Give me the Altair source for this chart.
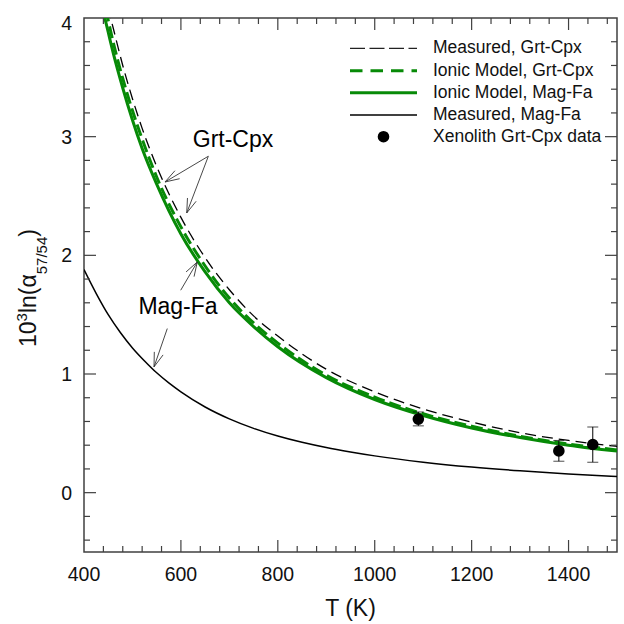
import math
import altair as alt
import pandas as pd

# ---------------- data ----------------
# Ionic Model, Mag-Fa (green solid)
T_ion_mf = [440, 450, 460, 480, 500, 520, 550, 600, 650, 700, 750, 800, 900, 1000, 1100, 1200, 1300, 1400, 1500]
V_ion_mf = [4.05, 3.88, 3.71, 3.41, 3.14, 2.90, 2.60, 2.18, 1.86, 1.60, 1.40, 1.23, 0.97, 0.785, 0.65, 0.545, 0.465, 0.40, 0.35]
# Ionic Model, Grt-Cpx (green dashed)
T_ion_gc = [445, 450, 460, 480, 500, 520, 550, 600, 650, 700, 750, 800, 900, 1000, 1100, 1200, 1300, 1400, 1500]
V_ion_gc = [4.07, 3.98, 3.80, 3.49, 3.22, 2.98, 2.66, 2.24, 1.91, 1.64, 1.43, 1.26, 0.99, 0.805, 0.665, 0.56, 0.475, 0.41, 0.36]
# Measured, Grt-Cpx (black dashed)
T_mea_gc = [450, 455, 460, 480, 500, 520, 550, 600, 650, 700, 750, 800, 900, 1000, 1100, 1200, 1300, 1400, 1500]
V_mea_gc = [4.09, 4.00, 3.92, 3.60, 3.32, 3.07, 2.75, 2.32, 1.98, 1.71, 1.49, 1.32, 1.04, 0.85, 0.705, 0.595, 0.505, 0.44, 0.39]
# Measured, Mag-Fa (black solid)
T_mea_mf = [400, 425, 450, 475, 500, 525, 550, 575, 600, 650, 700, 750, 800, 850, 900, 950, 1000, 1100, 1200, 1300, 1400, 1500]
V_mea_mf = [1.88, 1.68, 1.50, 1.35, 1.22, 1.11, 1.01, 0.925, 0.85, 0.722, 0.622, 0.542, 0.477, 0.424, 0.38, 0.343, 0.31, 0.257, 0.216, 0.184, 0.158, 0.136]
# Xenolith Grt-Cpx data
T_xen = [1090, 1380, 1450]
V_xen = [0.62, 0.352, 0.406]
LO_xen = [0.563, 0.265, 0.257]
HI_xen = [0.68, 0.44, 0.554]

x_major = [600, 800, 1000, 1200, 1400]
x_minor = [440, 480, 520, 560, 640, 680, 720, 760, 840, 880, 920, 960,
           1040, 1080, 1120, 1160, 1240, 1280, 1320, 1360, 1440, 1480]
x_labels = [400, 600, 800, 1000, 1200, 1400]
y_major = [0, 1, 2, 3]
y_minor = [-0.4, -0.2, 0.2, 0.4, 0.6, 0.8, 1.2, 1.4, 1.6, 1.8, 2.2, 2.4, 2.6, 2.8, 3.2, 3.4, 3.6, 3.8]
y_labels = [0, 1, 2, 3]
y_top_label = [4]

legend_labels = ["Measured, Grt-Cpx", "Ionic Model, Grt-Cpx", "Ionic Model, Mag-Fa",
                 "Measured, Mag-Fa", "Xenolith Grt-Cpx data"]

# annotation arrows (start T, start v, end T, end v)
arrows = [
    (656.6, 2.835, 567.2, 2.618),
    (656.6, 2.835, 612.0, 2.357),
    (599.6, 1.706, 633.8, 1.944),
    (571.9, 1.383, 544.5, 1.060),
]

# ---------------- layout ----------------
W, H = 533, 534
X0, X1, Y0, Y1 = 400, 1500, -0.5, 4.0
FONT = "Liberation Sans"
GREEN = "#078a07"
AX = "#404040"

xs = alt.Scale(domain=[X0, X1], nice=False, zero=False)
ys = alt.Scale(domain=[Y0, Y1], nice=False, zero=False)


def to_px(t, v):
    return (t - X0) / (X1 - X0) * W, (Y1 - v) / (Y1 - Y0) * H


def to_data(px, py):
    return X0 + px / W * (X1 - X0), Y1 - py / H * (Y1 - Y0)


segs = []
for (ta, va, tb, vb) in arrows:
    segs.append((ta, va, tb, vb))
    ax_, ay_ = to_px(ta, va)
    bx_, by_ = to_px(tb, vb)
    dx, dy = ax_ - bx_, ay_ - by_
    d = math.hypot(dx, dy)
    dx, dy = dx / d, dy / d
    for s in (1, -1):
        a = math.radians(18) * s
        rx = dx * math.cos(a) - dy * math.sin(a)
        ry = dx * math.sin(a) + dy * math.cos(a)
        hx, hy = to_data(bx_ + 15 * rx, by_ + 15 * ry)
        segs.append((tb, vb, hx, hy))
arrow_df = pd.DataFrame(segs, columns=["t", "v", "t2", "v2"])

X = lambda f: alt.X(f, scale=xs, axis=None)
Y = lambda f: alt.Y(f, scale=ys, axis=None)


def line_layer(T, V, color, width, dash=None):
    df = pd.DataFrame({"T": T, "v": V})
    kw = dict(color=color, strokeWidth=width, clip=True, interpolate="monotone")
    if dash:
        kw["strokeDash"] = dash
    return alt.Chart(df).mark_line(**kw).encode(x=X("T:Q"), y=Y("v:Q"))


layers = []
layers.append(line_layer(T_ion_mf, V_ion_mf, GREEN, 3.0))
layers.append(line_layer(T_ion_gc, V_ion_gc, GREEN, 3.0, dash=[12, 5]))
layers.append(line_layer(T_mea_gc, V_mea_gc, "black", 1.3, dash=[11, 6]))
layers.append(line_layer(T_mea_mf, V_mea_mf, "black", 1.5))

xen = pd.DataFrame({"T": T_xen, "v": V_xen, "lo": LO_xen, "hi": HI_xen})
layers.append(alt.Chart(xen).mark_rule(color="black", strokeWidth=1).encode(
    x=X("T:Q"), y=Y("lo:Q"), y2="hi:Q"))
for col in ("lo", "hi"):
    layers.append(alt.Chart(xen).mark_tick(orient="horizontal", size=11, thickness=1, color="black").encode(
        x=X("T:Q"), y=Y(f"{col}:Q")))
layers.append(alt.Chart(xen).mark_circle(size=135, color="black", opacity=1).encode(
    x=X("T:Q"), y=Y("v:Q")))

# ticks (inward) on all four sides
xmaj = pd.DataFrame({"T": x_major})
xmin = pd.DataFrame({"T": x_minor})
ymaj = pd.DataFrame({"v": y_major})
ymin = pd.DataFrame({"v": y_minor})
for df, L in ((xmaj, 12), (xmin, 6)):
    layers.append(alt.Chart(df).mark_rule(color=AX, strokeWidth=1.2).encode(
        x=X("T:Q"), y=alt.value(H), y2=alt.value(H - L)))
    layers.append(alt.Chart(df).mark_rule(color=AX, strokeWidth=1.2).encode(
        x=X("T:Q"), y=alt.value(0), y2=alt.value(L)))
for df, L in ((ymaj, 12), (ymin, 6)):
    layers.append(alt.Chart(df).mark_rule(color=AX, strokeWidth=1.2).encode(
        y=Y("v:Q"), x=alt.value(0), x2=alt.value(L)))
    layers.append(alt.Chart(df).mark_rule(color=AX, strokeWidth=1.2).encode(
        y=Y("v:Q"), x=alt.value(W), x2=alt.value(W - L)))

# tick labels
xl = pd.DataFrame({"T": x_labels})
layers.append(alt.Chart(xl).mark_text(fontSize=19.5, font=FONT, color="#111", align="center",
                                      baseline="alphabetic").encode(
    x=X("T:Q"), y=alt.value(H + 29), text=alt.Text("T:Q", format="d")))
yl = pd.DataFrame({"v": y_labels})
layers.append(alt.Chart(yl).mark_text(fontSize=19.5, font=FONT, color="#111", align="right",
                                      baseline="alphabetic", dy=7).encode(
    y=Y("v:Q"), x=alt.value(-12), text=alt.Text("v:Q", format="d")))
yl4 = pd.DataFrame({"v": y_top_label})
layers.append(alt.Chart(yl4).mark_text(fontSize=19.5, font=FONT, color="#111", align="right",
                                       baseline="alphabetic", dy=12).encode(
    y=Y("v:Q"), x=alt.value(-12), text=alt.Text("v:Q", format="d")))

# annotation arrows and labels
layers.append(alt.Chart(arrow_df).mark_rule(color="#333", strokeWidth=0.9).encode(
    x=X("t:Q"), y=Y("v:Q"), x2="t2:Q", y2="v2:Q"))
ann = pd.DataFrame({"t": [707.5, 594.0], "v": [2.97, 1.563], "txt": ["Grt-Cpx", "Mag-Fa"]})
layers.append(alt.Chart(ann).mark_text(fontSize=23, font=FONT, color="black", align="center", baseline="middle").encode(
    x=X("t:Q"), y=Y("v:Q"), text="txt:N"))

# legend (drawn manually)
one = pd.DataFrame({"a": [0]})
rows = [30.3, 52.7, 74.7, 97.0, 118.7]
LX0, LX1, LTX = 266, 333, 349
layers.append(alt.Chart(one).mark_rule(color="#222", strokeWidth=1.3, strokeDash=[15, 4.5]).encode(
    x=alt.value(LX0), x2=alt.value(LX1), y=alt.value(rows[0])))
layers.append(alt.Chart(one).mark_rule(color=GREEN, strokeWidth=3, strokeDash=[12.5, 8]).encode(
    x=alt.value(LX0), x2=alt.value(LX1), y=alt.value(rows[1])))
layers.append(alt.Chart(one).mark_rule(color=GREEN, strokeWidth=3).encode(
    x=alt.value(LX0), x2=alt.value(LX1), y=alt.value(rows[2])))
layers.append(alt.Chart(one).mark_rule(color="black", strokeWidth=1.3).encode(
    x=alt.value(LX0), x2=alt.value(LX1), y=alt.value(rows[3])))
layers.append(alt.Chart(one).mark_circle(size=135, color="black", opacity=1).encode(
    x=alt.value((LX0 + LX1) / 2), y=alt.value(rows[4])))
for r, lab in zip(rows, legend_labels):
    layers.append(alt.Chart(one).mark_text(text=lab, fontSize=17.5, font=FONT, color="#111",
                                            align="left", baseline="middle").encode(
        x=alt.value(LTX), y=alt.value(r)))

# axis titles
layers.append(alt.Chart(one).mark_text(text="T (K)", fontSize=23, font=FONT, color="#111",
                                        align="center", baseline="alphabetic").encode(
    x=alt.value(W / 2), y=alt.value(598)))
ytitle = [("10", 23, -48, 329), ("3", 15, -57, 303.4), ("ln(\u03b1", 23, -48, 295.1),
          ("57/54", 15, -37, 256.3), (")", 23, -48, 218.8)]
for txt, fs, bx, by in ytitle:
    layers.append(alt.Chart(one).mark_text(text=txt, fontSize=fs, font=FONT, color="#111", angle=270,
                                            align="left", baseline="alphabetic").encode(
        x=alt.value(bx), y=alt.value(by)))

chart = alt.layer(*layers).properties(
    width=W, height=H,
    padding={"left": 84, "top": 18, "right": 7, "bottom": 72},
    autosize=alt.AutoSizeParams(type="none"),
    background="white",
).configure_view(stroke=AX, strokeWidth=1.5)

chart.save("out.html", embed_options={"renderer": "svg", "actions": False})
